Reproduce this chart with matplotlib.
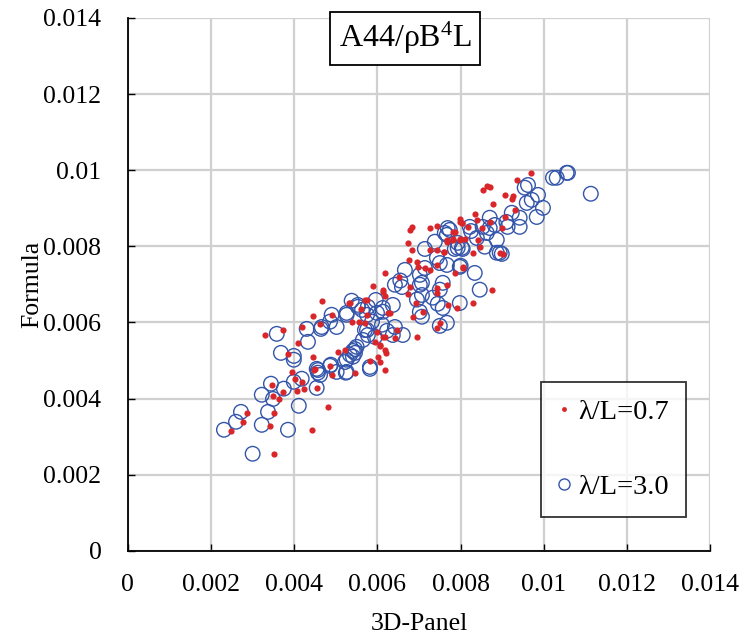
import numpy as np
import matplotlib
matplotlib.use("Agg")
import matplotlib.pyplot as plt
from matplotlib.lines import Line2D

plt.rcParams['font.family'] = ['Liberation Serif', 'DejaVu Serif']
plt.rcParams['mathtext.fontset'] = 'custom'
plt.rcParams['mathtext.rm'] = 'Liberation Serif'
plt.rcParams['mathtext.it'] = 'Liberation Serif'

# values in units of 1e-3
red_x = [3.51, 2.48, 2.76, 2.86, 3.41, 3.51, 4.42, 4.81, 3.46, 3.49, 3.63, 3.73, 4.06, 4.23, 4.01, 4.18,
         4.54, 4.47, 4.90, 4.86, 3.29, 4.66, 4.45, 3.73, 4.18, 4.09, 3.85, 4.45, 4.90, 5.31, 5.38, 5.75,
         5.89, 6.18, 6.30, 5.99, 6.18, 5.05, 5.22, 6.06, 6.18, 6.01, 6.06, 5.82, 6.18, 4.50, 5.46, 6.13,
         6.78, 6.73, 7.43, 7.43, 7.67, 7.69, 7.91, 6.92, 7.09, 6.85, 7.50, 7.43, 6.95, 6.47, 6.13, 6.42,
         5.94, 6.06, 6.20, 5.34, 5.70, 5.70, 5.75, 6.25, 5.55, 6.78, 6.83, 6.73, 6.83, 6.75, 6.95, 6.97,
         7.26, 7.43, 7.67, 7.81, 7.86, 7.98, 7.98, 8.03, 7.26, 7.43, 7.60, 7.14, 7.26, 7.43, 7.86, 8.05,
         6.18, 6.51, 6.13, 9.69, 9.35, 8.63, 8.70, 8.53, 9.06, 9.23, 9.25, 8.77, 9.30, 8.34, 8.39, 7.98,
         8.03, 8.17, 8.51, 8.70, 8.99, 9.06, 7.81, 7.67, 7.81, 7.98, 8.10, 8.41, 8.46, 7.60, 8.29, 8.94,
         8.05, 8.75, 8.29, 9.02, 5.60, 4.62, 3.95]
red_y = [2.55, 3.15, 3.39, 3.62, 3.28, 3.62, 3.18, 3.78, 4.36, 4.07, 3.99, 4.18, 4.20, 4.26, 4.52, 4.44,
         4.28, 4.75, 4.62, 4.86, 5.67, 6.57, 6.17, 5.80, 5.88, 5.46, 5.17, 5.10, 6.20, 6.51, 6.02, 6.59,
         6.96, 6.70, 6.25, 5.75, 5.62, 5.23, 5.28, 5.41, 5.28, 5.10, 4.96, 4.99, 4.75, 4.78, 4.68, 6.80,
         6.93, 6.75, 6.91, 6.78, 6.99, 6.46, 6.38, 6.51, 6.28, 6.15, 5.99, 5.86, 5.62, 5.80, 5.62, 5.59,
         5.49, 5.38, 5.20, 6.51, 5.99, 6.59, 6.20, 6.25, 6.02, 8.43, 8.50, 8.09, 7.91, 7.64, 7.59, 7.46,
         8.48, 8.54, 8.12, 8.17, 8.38, 8.17, 8.64, 8.60, 7.91, 7.91, 7.85, 7.43, 7.38, 7.51, 7.30, 7.43,
         7.30, 7.20, 6.86, 9.93, 9.75, 9.59, 9.56, 9.48, 9.35, 9.25, 9.33, 9.11, 8.96, 8.85, 8.69, 8.72,
         8.62, 8.51, 8.48, 8.64, 8.48, 8.77, 8.38, 8.17, 8.20, 8.20, 8.20, 8.17, 7.99, 7.85, 7.83, 7.83,
         7.46, 6.86, 6.51, 7.80, 6.36, 5.95, 4.70]

blue_x = [3.00, 2.31, 2.60, 2.72, 3.22, 3.37, 3.85, 4.11, 3.22, 3.49, 3.44, 3.75, 3.99, 4.18, 4.54, 4.57,
          4.62, 4.86, 3.99, 3.58, 3.68, 3.99, 4.33, 4.30, 4.90, 4.66, 4.64, 4.86, 5.02, 5.26, 5.38, 5.53,
          5.63, 5.77, 5.96, 5.99, 6.13, 5.75, 5.94, 5.65, 5.50, 5.46, 5.41, 5.26, 4.88, 5.02, 5.24, 4.54,
          4.57, 5.82, 6.23, 6.37, 6.42, 6.59, 7.02, 7.07, 7.33, 7.45, 7.50, 7.57, 7.98, 7.02, 7.07, 7.67,
          7.50, 6.61, 6.42, 6.37, 6.13, 5.53, 5.26, 5.75, 5.87, 6.11, 5.70, 5.77, 5.46, 5.22, 5.26, 5.82,
          5.41, 5.34, 7.38, 7.14, 7.62, 7.69, 7.93, 8.05, 7.43, 7.50, 7.67, 7.14, 7.02, 6.66, 7.07, 7.57,
          7.98, 10.55, 10.31, 10.22, 9.62, 9.54, 9.86, 9.71, 9.59, 9.98, 9.83, 9.42, 9.23, 9.42, 9.13, 9.10,
          8.70, 8.82, 8.53, 8.70, 8.22, 8.25, 8.63, 8.87, 8.39, 8.58, 7.93, 8.03, 7.74, 7.67, 7.86, 8.94,
          8.00, 8.34, 10.58, 11.13, 8.46, 8.87, 8.99, 6.55, 6.95]
blue_y = [2.55, 3.18, 3.39, 3.65, 3.31, 3.65, 3.18, 3.81, 4.10, 3.99, 4.39, 4.26, 4.44, 4.52, 4.28, 4.75,
          4.62, 4.86, 5.02, 5.70, 5.20, 5.12, 5.49, 5.83, 6.20, 5.88, 5.83, 6.02, 5.88, 6.20, 6.57, 6.46,
          6.33, 6.41, 6.59, 6.25, 6.28, 5.80, 5.62, 5.54, 5.36, 5.20, 5.10, 5.02, 4.89, 4.70, 4.68, 4.78,
          4.68, 4.83, 5.78, 5.67, 6.99, 6.93, 6.99, 6.72, 6.65, 6.49, 6.86, 6.38, 6.51, 6.28, 6.15, 5.99,
          5.91, 5.67, 5.88, 6.46, 6.38, 6.41, 6.25, 6.20, 6.02, 5.94, 5.80, 5.67, 5.30, 4.96, 4.70, 4.78,
          5.25, 5.15, 8.12, 7.93, 8.35, 8.48, 7.96, 7.93, 7.70, 7.56, 7.51, 7.43, 7.25, 7.38, 7.04, 7.04,
          7.46, 9.93, 9.80, 9.80, 9.61, 9.54, 9.35, 9.22, 9.14, 9.01, 8.77, 8.75, 8.88, 8.51, 8.51, 8.64,
          8.75, 8.56, 8.51, 8.48, 8.51, 8.40, 8.35, 8.17, 8.22, 7.99, 8.09, 7.96, 8.43, 8.30, 7.93, 7.83,
          7.49, 7.30, 9.93, 9.38, 6.86, 7.83, 7.80, 7.10, 6.60]

x_ticks = [0, 0.002, 0.004, 0.006, 0.008, 0.01, 0.012, 0.014]
y_ticks = [0, 0.002, 0.004, 0.006, 0.008, 0.01, 0.012, 0.014]
tick_labels = ['0', '0.002', '0.004', '0.006', '0.008', '0.01', '0.012', '0.014']

red_c = '#d9262b'
blue_c = '#3355aa'

fig = plt.figure(figsize=(7.39, 6.39), dpi=100)
ax = fig.add_axes([0.173, 0.138, 0.788, 0.834])

ax.scatter(np.array(blue_x) * 1e-3, np.array(blue_y) * 1e-3, s=110, facecolors='none',
           edgecolors=blue_c, linewidths=1.0, zorder=3)
ax.scatter(np.array(red_x) * 1e-3, np.array(red_y) * 1e-3, s=20, color=red_c, linewidths=0, zorder=4)

ax.set_xlim(0, 0.014)
ax.set_ylim(0, 0.014)
ax.set_xticks(x_ticks)
ax.set_yticks(y_ticks)
ax.set_xticklabels(tick_labels)
ax.set_yticklabels(tick_labels)
ax.tick_params(direction='in', length=5, width=1, labelsize=18.5)
ax.tick_params(axis='y', pad=19)
ax.tick_params(axis='x', pad=17)
ax.grid(True, color='#d0d0d0', linewidth=1.6, zorder=0)
ax.set_axisbelow(True)
for s in ['top', 'right']:
    ax.spines[s].set_visible(False)
for s in ['left', 'bottom']:
    ax.spines[s].set_linewidth(1.3)

ax.set_xlabel('3D-Panel', fontsize=18.5, labelpad=12)
ax.set_ylabel('Formula', fontsize=18.5, labelpad=0)

ax.text(0.476, 0.962, r'A44/ρB$^{4}$L', transform=ax.transAxes, ha='center', va='center',
        fontsize=23, bbox=dict(boxstyle='square,pad=0.26', facecolor='white', edgecolor='black',
                               linewidth=1.3))

handles = [Line2D([], [], marker='o', linestyle='none', color=red_c, markersize=3.5, markeredgewidth=0),
           Line2D([], [], marker='o', linestyle='none', markerfacecolor='none', markeredgecolor=blue_c,
                  markersize=8, markeredgewidth=1.0)]
leg = ax.legend(handles, ['λ/L=0.7', 'λ/L=3.0'], loc='lower left', bbox_to_anchor=(0.71, 0.064),
                fontsize=20.5, frameon=True, fancybox=False, labelspacing=1.72, borderpad=0.6,
                handlelength=0.4, handletextpad=0.3, borderaxespad=0)
leg.get_frame().set_edgecolor('black')
leg.get_frame().set_linewidth(1.3)

fig.savefig('out.png', dpi=100)
